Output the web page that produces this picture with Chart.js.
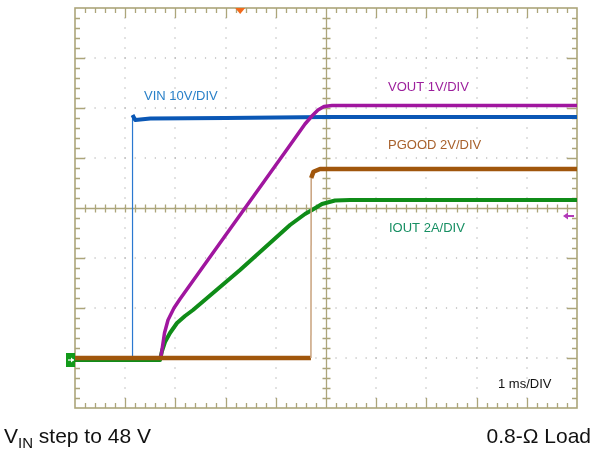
<!DOCTYPE html>
<html lang="en">
<head>
<meta charset="UTF-8">
<title>Start-up into 0.8 Ω load</title>
<script src="https://cdn.jsdelivr.net/npm/chart.js"></script>
<style>
  html, body { margin: 0; padding: 0; background: #fff; }
  #wrap { position: relative; width: 593px; height: 452px; }
</style>
</head>
<body>
<div id="wrap"><canvas id="scope" width="593" height="452"></canvas></div>
<script>
// time in ms from the left edge of the screen (1 ms/DIV)
const vinTime   = [0, 1.14, 1.146, 1.2, 1.5, 3.0, 5.0, 10];
const vinVolts  = [0, 0, 48.6, 47.6, 47.9, 48.0, 48.2, 48.2];

const voutTime  = [0, 1.707, 1.733, 1.783, 1.853, 1.972, 2.092, 2.49, 3.088, 3.745, 4.243, 4.582, 4.72, 4.84, 4.96, 5.12, 10];
const voutVolts = [0, 0, 0.16, 0.50, 0.76, 1.0, 1.18, 1.74, 2.58, 3.5, 4.2, 4.68, 4.84, 4.96, 5.03, 5.05, 5.05];

const pgTime    = [0, 4.70, 4.705, 4.75, 4.88, 10];
const pgVolts   = [0, 0, 7.2, 7.45, 7.56, 7.56];

const ioutTime  = [0, 1.693, 1.733, 1.793, 1.892, 2.032, 2.191, 2.351, 3.287, 4.283, 4.582, 4.721, 4.92, 5.179, 5.478, 10];
const ioutAmps  = [-0.08, -0.08, 0.28, 0.64, 1.0, 1.4, 1.68, 1.92, 3.52, 5.32, 5.76, 5.92, 6.16, 6.30, 6.32, 6.32];

const triggerTime = 3.29;   // orange marker at the top
const FONT = '"Liberation Sans", Arial, sans-serif';

function pts(t, v) { return t.map((x, i) => ({ x: x, y: v[i] })); }

// thin stroke for the fast edges, like the scope does
function edge(thin, thick, thinColor, color) {
  return {
    borderWidth: c => Math.abs(c.p1.x - c.p0.x) < 1 ? thin : thick,
    borderColor: c => Math.abs(c.p1.x - c.p0.x) < 1 ? thinColor : color
  };
}

const scopeGrid = {
  id: 'scopeGrid',
  beforeDatasetsDraw(chart) {
    const { ctx, chartArea: a, scales } = chart;
    const xs = scales.x, gs = scales.grid;
    ctx.save();
    // dotted graticule
    ctx.fillStyle = '#b0b0b0';
    for (let i = 1; i < 10; i++) {
      if (i === 5) continue;
      const x = Math.round(xs.getPixelForValue(i));
      for (let j = 1; j < 40; j++) {
        const y = gs.getPixelForValue(j / 5);
        ctx.fillRect(x - 0.6, y - 0.6, 1.2, 1.2);
      }
    }
    for (let k = 1; k < 8; k++) {
      if (k === 4) continue;
      const y = Math.round(gs.getPixelForValue(k));
      for (let m = 1; m < 50; m++) {
        const x = xs.getPixelForValue(m / 5);
        ctx.fillRect(x - 0.6, y - 0.6, 1.2, 1.2);
      }
    }
    // centre cross and frame
    ctx.strokeStyle = '#aca57a';
    ctx.lineWidth = 1.3;
    const cx = Math.round(xs.getPixelForValue(5)) + 0.5;
    const cy = Math.round(gs.getPixelForValue(4)) + 0.5;
    ctx.beginPath();
    ctx.moveTo(a.left, cy); ctx.lineTo(a.right, cy);
    ctx.moveTo(cx, a.top); ctx.lineTo(cx, a.bottom);
    for (let m = 1; m < 50; m++) {
      const x = Math.round(xs.getPixelForValue(m / 5)) + 0.5;
      ctx.moveTo(x, cy - 4); ctx.lineTo(x, cy + 4);
      const big = m % 5 === 0 ? 10 : 5;
      ctx.moveTo(x, a.top); ctx.lineTo(x, a.top + big);
      ctx.moveTo(x, a.bottom); ctx.lineTo(x, a.bottom - big);
    }
    for (let j = 1; j < 40; j++) {
      const y = Math.round(gs.getPixelForValue(j / 5)) + 0.5;
      ctx.moveTo(cx - 4, y); ctx.lineTo(cx + 4, y);
      const big = j % 5 === 0 ? 10 : 5;
      ctx.moveTo(a.left, y); ctx.lineTo(a.left + big, y);
      ctx.moveTo(a.right, y); ctx.lineTo(a.right - big, y);
    }
    ctx.stroke();
    ctx.lineWidth = 1.6;
    ctx.strokeRect(a.left, a.top, a.right - a.left, a.bottom - a.top);
    ctx.restore();
  },
  afterDatasetsDraw(chart) {
    const { ctx, chartArea: a, scales } = chart;
    const xs = scales.x, gs = scales.grid;
    ctx.save();
    // trigger position
    const tx = xs.getPixelForValue(triggerTime);
    ctx.fillStyle = '#f26a1b';
    ctx.beginPath();
    ctx.moveTo(tx - 5, a.top); ctx.lineTo(tx + 5, a.top); ctx.lineTo(tx, a.top + 6);
    ctx.closePath(); ctx.fill();
    // channel 1 ground marker
    const gy = gs.getPixelForValue(1);
    ctx.fillStyle = '#129a1a';
    ctx.fillRect(a.left - 9, gy - 5, 9, 14);
    ctx.strokeStyle = '#fff'; ctx.fillStyle = '#fff'; ctx.lineWidth = 1.2;
    ctx.beginPath(); ctx.moveTo(a.left - 7, gy + 2); ctx.lineTo(a.left - 1, gy + 2); ctx.stroke();
    ctx.beginPath(); ctx.moveTo(a.left - 1, gy + 2); ctx.lineTo(a.left - 4, gy - 0.5); ctx.lineTo(a.left - 4, gy + 4.5); ctx.closePath(); ctx.fill();
    // purple reference arrow on the right
    const py = gs.getPixelForValue(3.84);
    ctx.strokeStyle = '#b23ab8'; ctx.fillStyle = '#b23ab8'; ctx.lineWidth = 2;
    ctx.beginPath(); ctx.moveTo(a.right - 3, py); ctx.lineTo(a.right - 11, py); ctx.stroke();
    ctx.beginPath(); ctx.moveTo(a.right - 14, py); ctx.lineTo(a.right - 9, py - 3.5); ctx.lineTo(a.right - 9, py + 3.5); ctx.closePath(); ctx.fill();
    ctx.restore();
  },
  afterDraw(chart) {
    const ctx = chart.ctx;
    ctx.save();
    ctx.textBaseline = 'alphabetic';
    ctx.font = '13px ' + FONT;
    ctx.fillStyle = '#2a80c8'; ctx.fillText('VIN 10V/DIV', 144, 100);
    ctx.fillStyle = '#9c1f9c'; ctx.fillText('VOUT 1V/DIV', 388, 91);
    ctx.fillStyle = '#a8612c'; ctx.fillText('PGOOD 2V/DIV', 388, 149);
    ctx.fillStyle = '#178f63'; ctx.fillText('IOUT 2A/DIV', 389, 232);
    ctx.font = '13px ' + FONT;
    ctx.fillStyle = '#111'; ctx.fillText('1 ms/DIV', 498, 388);
    ctx.font = '21px ' + FONT;
    ctx.fillText('V', 4, 443);
    let x = 4 + ctx.measureText('V').width;
    ctx.font = '15px ' + FONT;
    ctx.fillText('IN', x, 448);
    x += ctx.measureText('IN').width;
    ctx.font = '21px ' + FONT;
    ctx.fillText(' step to 48 V', x, 443);
    ctx.textAlign = 'right';
    ctx.fillText('0.8-Ω Load', 591, 443);
    ctx.restore();
  }
};

new Chart(document.getElementById('scope'), {
  type: 'line',
  data: {
    datasets: [
      { label: 'PGOOD', data: pts(pgTime, pgVolts), yAxisID: 'yPg',
        borderColor: '#a0560c', segment: edge(1.5, 4.5, '#c9a27e', '#a0560c') },
      { label: 'VOUT', data: pts(voutTime, voutVolts), yAxisID: 'yVout',
        borderColor: '#a0169f', segment: edge(1.5, 3.5, '#a0169f', '#a0169f') },
      { label: 'VIN', data: pts(vinTime, vinVolts), yAxisID: 'yVin',
        borderColor: '#0a57b5', segment: edge(1.2, 4, '#2a78d0', '#0a57b5') },
      { label: 'IOUT', data: pts(ioutTime, ioutAmps), yAxisID: 'yIout',
        borderColor: '#0f8c18', segment: edge(1.5, 4, '#0f8c18', '#0f8c18') }
    ]
  },
  options: {
    responsive: false,
    animation: false,
    events: [],
    layout: { padding: { left: 75, right: 16, top: 8, bottom: 44 } },
    elements: { point: { radius: 0 }, line: { tension: 0, borderCapStyle: 'butt', borderJoinStyle: 'round' } },
    plugins: { legend: { display: false }, tooltip: { enabled: false } },
    scales: {
      x:     { type: 'linear', axis: 'x', min: 0, max: 10, display: false },
      grid:  { type: 'linear', axis: 'y', min: 0, max: 8, display: false },
      yVin:  { type: 'linear', axis: 'y', min: -10, max: 70, display: false },
      yVout: { type: 'linear', axis: 'y', min: -1, max: 7, display: false },
      yPg:   { type: 'linear', axis: 'y', min: -2, max: 14, display: false },
      yIout: { type: 'linear', axis: 'y', min: -2, max: 14, display: false }
    }
  },
  plugins: [scopeGrid]
});
</script>
</body>
</html>
